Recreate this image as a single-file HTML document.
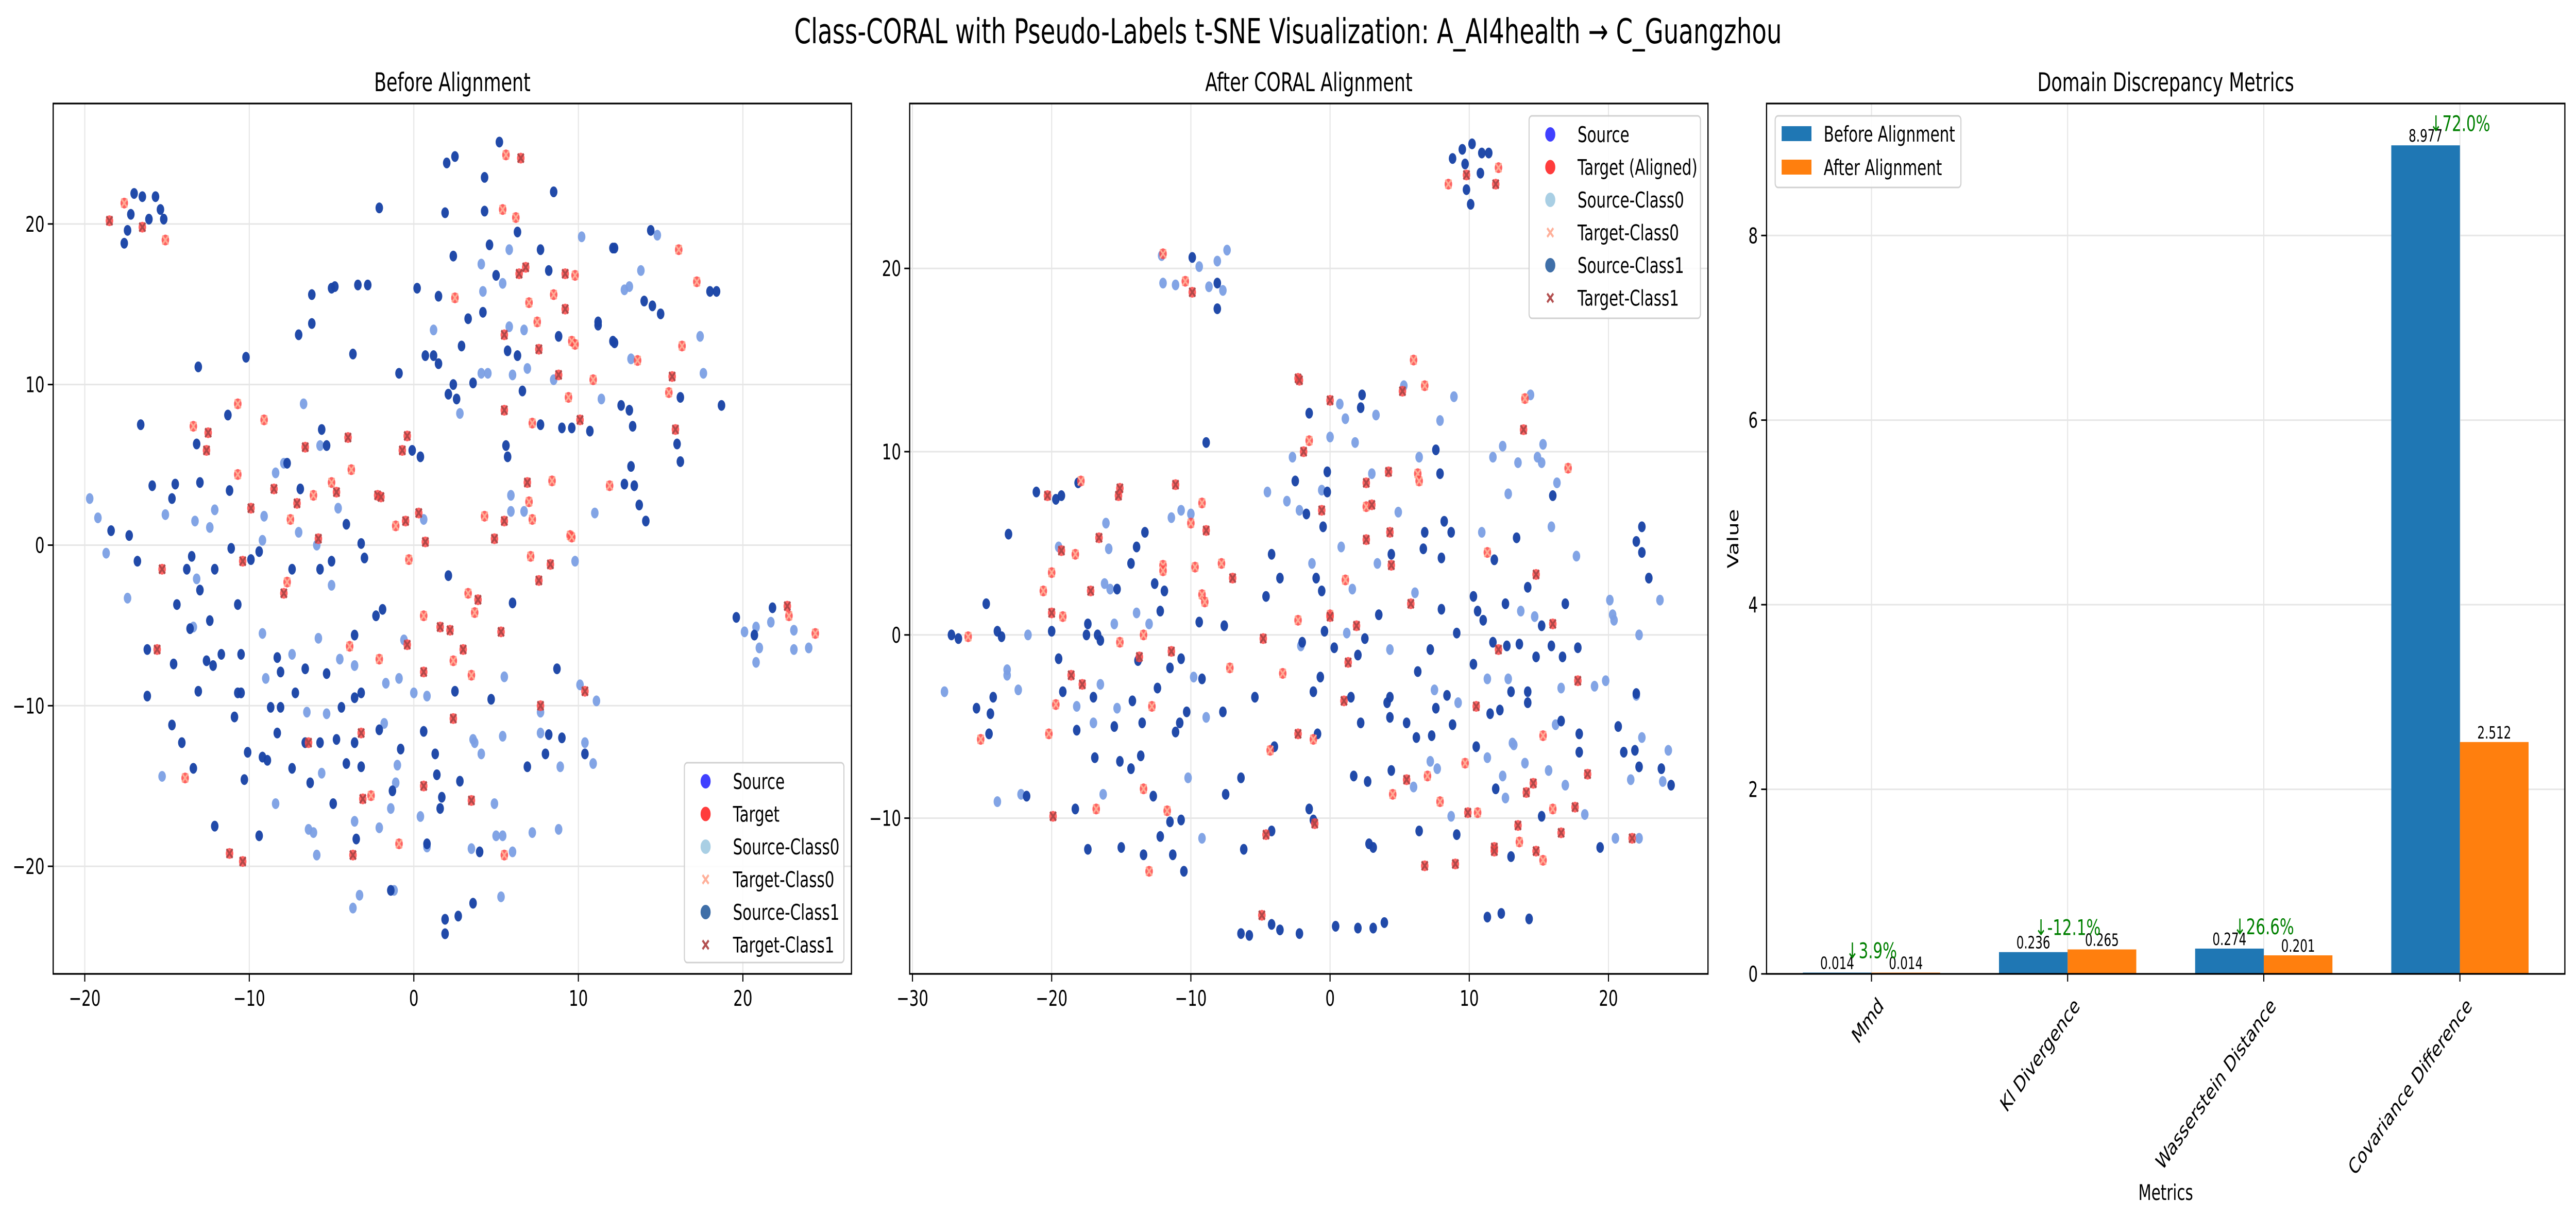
<!DOCTYPE html>
<html><head><meta charset="utf-8"><style>
html,body{margin:0;padding:0;background:#fff;width:100%;height:100%;overflow:hidden;}
svg{display:block;width:100vw;height:100vh;font-family:"DejaVu Sans","Liberation Sans",sans-serif;}
</style></head><body>
<svg id="fig" viewBox="0 0 7170 2365" preserveAspectRatio="none" xmlns="http://www.w3.org/2000/svg">
<rect width="7170" height="2365" fill="#fff"/>
<text x="3585" y="84" font-size="67" text-anchor="middle">Class-CORAL with Pseudo-Labels t-SNE Visualization: A_AI4health → C_Guangzhou</text>
</svg>
<script>
// ---------- Panel 1 data (Before Alignment) ----------
const p1SrcC1=[[5.2,25.1],[2.0,23.8],[2.5,24.2],[4.3,22.9],[8.5,22.0],[-2.1,21.0],[1.9,20.7],[4.3,20.8],[6.3,19.5],[4.6,18.7],[7.7,18.4],[2.4,18.0],[5.0,16.8],[8.2,17.1],[0.2,16.0],[1.5,15.5],[-6.2,15.6],[-6.2,13.8],[-5.0,16.0],[-4.8,16.1],[-3.4,16.2],[-2.8,16.2],[-7.0,13.1],[3.3,14.1],[4.2,14.5],[-3.7,11.9],[-10.2,11.7],[-13.1,11.1],[0.7,11.8],[1.2,11.8],[1.5,11.3],[2.9,12.4],[5.7,12.1],[6.3,11.8],[-0.9,10.7],[2.4,10.0],[2.1,9.4],[2.6,9.1],[3.6,10.1],[6.6,9.6],[8.8,13.0],[11.2,13.9],[11.2,13.7],[12.1,18.5],[12.2,18.5],[12.1,12.7],[12.2,12.6],[14.4,19.6],[14.0,15.2],[14.5,14.9],[15.0,14.4],[18.0,15.8],[18.4,15.8],[18.7,8.7],[16.2,9.2],[12.6,8.7],[13.1,8.4],[13.3,7.4],[7.7,7.5],[9.0,7.3],[9.6,7.3],[10.7,7.1],[16.0,6.3],[16.2,5.2],[5.6,6.2],[5.7,5.5],[13.2,4.9],[12.8,3.8],[13.4,3.7],[13.7,2.5],[14.1,1.5],[-11.3,8.1],[-16.6,7.5],[-5.6,7.2],[-5.3,6.2],[-13.2,6.3],[-7.7,5.1],[-0.1,5.9],[0.4,5.5],[-6.9,3.5],[-15.9,3.7],[-14.5,3.8],[-14.7,2.9],[-13.0,3.9],[-11.2,3.4],[-4.1,1.3],[-18.4,0.9],[-17.3,0.6],[-3.2,0.1],[-16.8,-1.0],[-11.1,-0.2],[-13.5,-0.7],[-13.8,-1.5],[-9.9,-0.9],[-9.4,-0.4],[-5.0,-1.0],[-5.7,-1.5],[-3.0,-0.8],[-7.4,-1.5],[-12.1,-1.5],[-13.0,-2.8],[2.1,-1.9],[6.0,-3.6],[-14.4,-3.7],[-10.7,-3.7],[-1.9,-4.0],[-2.3,-4.4],[-12.4,-4.7],[-13.6,-5.2],[-3.6,-5.6],[-16.2,-6.5],[-11.7,-6.8],[-10.5,-6.8],[-12.6,-7.2],[-12.2,-7.5],[-14.6,-7.4],[-8.3,-7.0],[-6.6,-7.7],[-5.3,-8.0],[-8.1,-7.9],[8.7,-7.7],[-13.1,-9.1],[-16.2,-9.4],[-7.2,-9.2],[-10.7,-9.2],[-10.5,-9.2],[-3.6,-9.5],[-3.2,-9.2],[2.5,-9.1],[4.7,-9.6],[-8.7,-10.1],[-8.1,-10.1],[-4.4,-10.1],[-10.9,-10.7],[-14.7,-11.2],[-2.1,-11.5],[0.6,-11.6],[-8.3,-11.7],[8.2,-11.8],[9.0,-12.0],[-14.1,-12.3],[-4.7,-12.1],[-5.7,-12.3],[-6.6,-12.3],[-3.6,-12.3],[-0.8,-12.7],[-10.1,-12.9],[-9.2,-13.2],[-8.9,-13.4],[1.3,-13.0],[8.0,-13.0],[10.4,-13.0],[-4.1,-13.6],[-13.4,-13.9],[-7.4,-13.9],[-3.2,-13.8],[6.9,-13.8],[1.4,-14.3],[-10.3,-14.6],[2.8,-14.7],[-6.3,-14.8],[-1.3,-15.3],[1.7,-15.7],[-4.9,-16.1],[1.6,-16.4],[-12.1,-17.5],[-9.4,-18.1],[-3.5,-18.3],[0.8,-18.6],[4.0,-19.1],[-1.4,-21.5],[3.6,-22.3],[2.7,-23.1],[1.9,-23.3],[1.9,-24.2],[-17.0,21.9],[-16.5,21.7],[-15.7,21.7],[-17.2,20.6],[-16.1,20.3],[-15.4,20.9],[-15.2,20.3],[-17.4,19.6],[-17.6,18.8],[19.6,-4.5],[20.7,-5.6],[21.8,-3.9]];
const p1SrcC0=[[-19.7,2.9],[-19.2,1.7],[-18.7,-0.5],[-17.4,-3.3],[-15.1,1.9],[-13.3,1.5],[-12.4,1.1],[-12.1,2.2],[-13.2,-2.1],[-13.4,-5.1],[-15.3,-14.4],[-9.1,1.8],[-9.2,0.3],[-8.4,4.5],[-7.9,5.1],[-6.7,8.8],[-5.7,6.2],[-7.0,0.8],[-4.6,2.3],[-5.9,0.0],[-5.0,-2.5],[-9.2,-5.5],[-7.4,-6.8],[-9.0,-8.3],[-5.8,-5.8],[-4.5,-7.1],[-3.6,-7.5],[-6.5,-10.4],[-5.3,-10.5],[-8.4,-16.1],[-5.6,-14.2],[-6.4,-17.7],[-6.1,-17.9],[-5.9,-19.3],[-3.6,-17.2],[-2.1,-17.6],[-3.7,-22.6],[-3.3,-21.8],[-1.2,-21.5],[-1.4,-16.4],[-1.0,-13.7],[-1.1,-14.8],[-1.8,-11.1],[-1.7,-8.6],[-0.9,-8.3],[-0.6,-5.9],[0.0,-9.2],[0.8,-9.4],[0.6,1.6],[0.4,-16.9],[0.8,-18.8],[3.6,-12.1],[3.7,-12.3],[4.1,-13.0],[3.5,-18.9],[4.9,-16.1],[5.0,-18.1],[5.4,-18.1],[6.0,-19.1],[5.3,-21.9],[5.4,-11.9],[5.5,-8.2],[7.2,-17.9],[7.7,-10.4],[7.7,-11.7],[8.9,-13.8],[8.8,-17.7],[10.1,-8.7],[10.4,-12.3],[11.1,-9.7],[10.9,-13.6],[9.8,-1.0],[11.0,2.0],[5.9,3.1],[5.9,2.1],[6.7,2.1],[2.8,8.2],[1.2,13.4],[4.1,17.5],[4.2,15.8],[4.1,10.7],[4.5,10.7],[5.4,16.3],[5.8,18.4],[5.8,13.6],[6.0,10.6],[6.7,13.4],[6.9,11.0],[8.5,10.3],[10.2,19.2],[11.4,9.1],[12.8,15.9],[13.1,16.1],[13.8,17.1],[13.2,11.6],[14.8,19.3],[17.4,13.0],[17.6,10.7],[20.1,-5.4],[20.8,-5.1],[20.8,-7.3],[21.0,-6.4],[21.7,-4.8],[23.1,-5.3],[23.1,-6.5],[24.0,-6.4]];
const p1TgtC0=[[-17.6,21.3],[-15.1,19.0],[5.6,24.3],[5.4,20.9],[6.2,20.4],[2.5,15.4],[7.0,15.1],[7.5,13.9],[8.5,15.6],[9.8,16.8],[9.6,12.7],[9.8,12.5],[9.4,9.2],[10.9,10.3],[16.1,18.4],[17.2,16.4],[16.3,12.4],[15.5,9.5],[13.6,11.5],[11.9,3.7],[8.4,4.0],[7.2,7.6],[7.0,2.7],[7.2,1.6],[9.5,0.6],[9.6,0.5],[7.1,-0.7],[4.3,1.8],[-13.4,7.4],[-10.7,8.8],[-9.1,7.8],[-10.7,4.4],[-6.1,3.1],[-5.0,3.9],[-3.8,4.7],[-7.5,1.6],[-1.1,1.2],[-0.3,-0.9],[-7.7,-2.3],[0.6,-4.4],[3.3,-3.0],[3.7,-4.2],[2.4,-7.2],[3.5,-8.1],[-2.1,-7.1],[-3.9,-6.3],[-13.9,-14.5],[-2.6,-15.6],[-0.9,-18.6],[5.5,-19.3],[24.4,-5.5],[22.8,-4.4]];
const p1TgtC1=[[-18.5,20.2],[-16.5,19.8],[6.5,24.1],[5.5,13.1],[6.4,16.9],[6.8,17.3],[7.6,12.2],[9.2,16.9],[9.2,14.7],[8.8,10.6],[5.5,8.4],[10.1,7.8],[15.9,7.2],[15.7,10.5],[6.9,3.9],[5.5,1.5],[4.9,0.4],[8.3,-1.2],[7.6,-2.2],[0.7,0.2],[0.3,2.0],[-0.5,1.5],[-0.7,5.9],[-0.4,6.8],[-2.2,3.1],[-2.0,3.0],[-4.0,6.7],[-4.7,3.3],[-6.6,6.1],[-5.8,0.4],[-8.5,3.5],[-7.1,2.6],[-9.9,2.3],[-10.4,-1.0],[-12.5,7.0],[-12.6,5.9],[-15.3,-1.5],[-15.6,-6.5],[-7.9,-3.0],[-0.4,-6.2],[0.6,-7.9],[1.6,-5.1],[2.2,-5.3],[3.0,-6.5],[3.9,-3.4],[5.3,-5.4],[7.7,-10.0],[10.4,-9.1],[2.4,-10.8],[-3.2,-11.7],[-6.4,-12.3],[-3.1,-15.8],[0.6,-15.0],[3.5,-15.9],[-3.7,-19.3],[-11.2,-19.2],[-10.4,-19.7],[22.7,-3.8]];
const p1XTicks=[-20,-10,0,10,20];
const p1YTicks=[-20,-10,0,10,20];

// ---------- Panel 2 data (After CORAL Alignment) ----------
const p2SrcC1=[[10.2,26.8],[9.5,26.5],[8.8,26.0],[9.7,25.7],[10.9,26.3],[11.4,26.3],[10.8,25.2],[9.8,24.3],[10.1,23.5],[-9.9,20.6],[-8.1,19.2],[-8.1,17.8],[-8.9,10.5],[2.3,13.1],[2.2,12.4],[-1.5,12.1],[-2.5,8.4],[-0.2,8.9],[-0.2,7.8],[-1.7,6.6],[-0.5,5.9],[-21.1,7.8],[-19.7,7.4],[-19.3,7.6],[-18.1,8.3],[-23.1,5.5],[-24.7,1.7],[-23.9,0.2],[-23.6,-0.1],[-27.2,0.0],[-26.7,-0.2],[-25.4,-4.0],[-24.4,-4.3],[-24.2,-3.4],[-24.5,-5.4],[-20.0,0.2],[-19.5,-1.3],[-19.2,-3.1],[-17.4,0.6],[-17.5,0.0],[-16.7,0.0],[-16.5,-0.3],[-17.0,-3.4],[-16.9,-6.7],[-18.2,-5.2],[-18.3,-9.5],[-17.4,-11.7],[-21.8,-8.8],[-15.5,-5.0],[-15.3,2.5],[-15.1,-6.9],[-15.0,-11.6],[-14.3,3.9],[-13.9,4.8],[-13.3,5.6],[-13.8,-1.4],[-14.2,-3.6],[-14.3,-7.3],[-13.6,-6.6],[-13.5,-4.8],[-13.4,-12.0],[-12.7,-8.8],[-12.6,2.8],[-11.9,2.4],[-12.2,1.3],[-12.4,-2.9],[-12.2,-11.0],[-11.5,-10.2],[-11.3,-12.0],[-11.1,-5.3],[-10.8,-4.8],[-11.5,-1.8],[-10.7,-1.3],[-10.3,-4.2],[-10.7,-10.1],[-10.5,-12.9],[-9.4,0.7],[-9.2,-2.4],[-7.6,0.5],[-7.7,-4.2],[-7.5,-8.7],[-6.4,-7.8],[-6.2,-11.7],[-6.4,-16.3],[-5.8,-16.4],[-5.4,-3.4],[-4.6,2.1],[-4.2,4.4],[-3.6,3.1],[-4.0,-6.1],[-4.2,-10.7],[-4.2,-15.8],[-3.6,-16.1],[-2.2,-16.3],[-2.0,-0.4],[-1.2,-3.1],[-0.7,-2.3],[-0.9,-5.4],[-1.5,-9.5],[-1.2,-10.1],[-0.4,0.2],[-1.0,3.1],[-0.6,2.4],[0.3,-0.7],[0.4,-15.9],[1.5,-3.4],[2.0,-1.1],[2.2,-4.8],[1.7,-7.7],[2.7,-8.0],[2.0,-16.0],[2.5,-0.2],[2.8,-11.4],[3.1,-11.6],[3.1,-16.0],[3.9,-15.7],[3.5,1.1],[4.1,-3.7],[4.3,-3.4],[4.3,-4.5],[4.4,4.4],[4.4,-7.4],[5.5,-4.8],[6.2,-5.6],[6.3,-2.0],[6.4,-10.7],[6.7,4.7],[6.8,5.6],[7.2,-0.8],[7.3,-5.5],[7.6,-4.0],[7.6,10.1],[7.9,8.8],[8.0,4.2],[8.0,1.4],[8.2,6.2],[8.7,5.6],[8.4,-3.3],[8.8,-4.9],[9.1,0.1],[9.1,-10.9],[10.3,2.1],[10.6,1.3],[11.0,0.8],[10.3,-1.6],[10.5,-6.1],[11.3,-15.4],[11.5,-4.3],[11.7,-0.4],[11.8,4.1],[11.9,-8.4],[12.2,-4.1],[12.3,-15.2],[12.6,1.7],[12.7,-0.6],[13.0,-3.1],[13.0,-12.1],[13.4,5.3],[13.6,-0.5],[14.2,-3.1],[14.2,-3.7],[14.2,2.6],[14.3,-15.5],[14.8,-1.2],[15.2,-9.9],[15.2,0.5],[15.9,-0.6],[16.0,7.6],[16.7,-1.2],[16.6,-4.7],[16.9,1.7],[17.8,-0.7],[17.9,-5.4],[17.9,-6.4],[19.4,-11.6],[20.7,-5.0],[21.1,-6.4],[21.9,-6.3],[22.0,-3.2],[22.0,5.1],[22.4,5.9],[22.4,4.5],[22.2,-7.2],[22.9,3.1],[23.8,-7.3],[24.5,-8.2]];
const p2SrcC0=[[-12.1,20.7],[-12.0,19.2],[-11.1,19.1],[-9.4,20.1],[-8.1,20.4],[-7.4,21.0],[-8.7,19.0],[-7.7,18.8],[-27.7,-3.1],[-23.2,-1.9],[-23.2,-2.2],[-22.4,-3.0],[-21.7,0.0],[-23.9,-9.1],[-22.2,-8.7],[-19.5,4.8],[-18.2,-3.9],[-17.0,-4.8],[-16.5,-2.7],[-16.3,-8.7],[-16.1,6.1],[-15.9,4.7],[-16.2,2.8],[-15.8,2.5],[-15.5,0.6],[-15.3,-4.0],[-13.9,1.2],[-13.0,0.6],[-11.4,6.4],[-10.7,6.8],[-10.0,6.6],[-10.2,-7.8],[-9.8,-2.3],[-9.2,-11.1],[-8.9,-4.5],[-4.5,7.8],[-3.1,7.3],[-2.7,9.7],[-2.2,6.8],[-2.1,-0.6],[-1.3,3.9],[-0.6,7.9],[0.0,10.8],[0.7,12.6],[1.1,11.8],[0.8,4.8],[1.2,0.1],[1.6,2.5],[1.8,10.5],[3.0,8.8],[3.3,12.0],[3.4,3.9],[4.3,-0.8],[4.9,6.7],[5.3,13.6],[6.1,2.3],[6.0,-8.3],[6.4,9.7],[7.2,-6.9],[7.5,-3.0],[7.7,-7.3],[7.9,11.7],[8.7,-9.9],[8.9,13.0],[9.2,-3.7],[10.9,5.6],[11.3,-2.4],[11.3,-6.7],[11.7,9.7],[12.4,10.3],[12.4,-7.7],[12.6,-8.9],[12.8,7.7],[12.8,-2.4],[13.1,-5.9],[13.2,-6.0],[13.5,9.4],[13.7,1.3],[14.0,-7.0],[14.4,13.1],[14.7,1.0],[14.9,9.7],[15.2,9.4],[15.3,10.4],[15.7,-7.4],[15.9,5.9],[16.2,-4.9],[16.3,8.3],[16.6,-2.9],[16.9,-8.2],[17.7,4.3],[18.3,-9.8],[19.0,-2.8],[19.8,-2.5],[20.1,1.9],[20.3,1.1],[20.4,0.8],[20.5,-11.1],[21.6,-7.9],[22.0,-3.3],[22.2,0.0],[22.2,-11.1],[22.4,-5.6],[23.7,1.9],[23.9,-8.0],[24.3,-6.3]];
const p2TgtC0=[[8.5,24.6],[12.1,25.5],[-12.0,20.8],[-10.4,19.3],[6.0,15.0],[6.8,13.6],[14.0,12.9],[17.1,9.1],[-1.5,10.6],[6.3,8.8],[6.4,8.4],[-17.9,8.4],[-9.2,7.2],[-10.0,6.1],[-9.7,3.7],[-12.0,3.8],[-12.0,3.5],[-7.8,3.9],[-9.2,2.2],[-9.0,1.8],[-18.3,4.4],[-20.6,2.4],[-20.0,3.4],[-19.2,1.0],[-26.0,-0.1],[-19.7,-3.8],[-25.1,-5.7],[-20.2,-5.4],[-15.1,-0.4],[-13.4,0.0],[-12.8,-3.9],[-13.4,-8.4],[-13.0,-12.9],[-11.7,-9.6],[-16.8,-9.5],[-7.2,-1.8],[-3.4,-2.1],[-4.3,-6.3],[-2.3,0.8],[-1.2,-5.7],[1.1,3.0],[2.6,7.0],[0.0,1.1],[4.5,-8.7],[7.0,-7.7],[7.9,-9.1],[9.7,-7.0],[10.6,-9.7],[11.3,4.5],[13.6,-11.3],[15.3,-5.5],[15.3,-12.3],[16.0,-9.5]];
const p2TgtC1=[[9.8,25.1],[11.9,24.6],[-9.9,18.7],[-2.3,14.0],[-2.2,13.9],[0.0,12.8],[5.2,13.3],[13.9,11.2],[-1.9,10.0],[2.6,8.3],[4.2,8.9],[-0.6,6.8],[3.0,7.1],[-20.3,7.6],[-15.2,7.6],[-15.1,8.0],[-11.1,8.2],[-8.9,5.7],[-16.6,5.3],[-19.3,4.6],[-7.0,3.1],[-17.2,2.4],[-20.0,1.2],[-18.6,-2.2],[-17.8,-2.7],[-13.7,-1.2],[-11.4,-0.9],[-19.9,-9.9],[-4.8,-0.2],[-2.3,-5.4],[-4.6,-10.9],[-4.9,-15.3],[-1.1,-10.3],[0.0,1.0],[1.3,-1.5],[1.9,0.5],[1.0,-3.6],[2.6,5.2],[4.3,5.6],[4.4,3.8],[5.5,-7.9],[5.8,1.7],[6.8,-12.6],[9.0,-12.5],[9.9,-9.7],[10.5,-3.9],[11.8,-11.6],[11.8,-11.8],[12.1,-0.8],[13.5,-10.4],[14.1,-8.6],[14.6,-8.1],[14.8,3.3],[14.8,-11.8],[16.0,0.6],[16.6,-10.8],[17.6,-9.4],[17.8,-2.5],[18.5,-7.6],[21.7,-11.1]];
const p2XTicks=[-30,-20,-10,0,10,20];
const p2YTicks=[-10,0,10,20];

// ---------- Panel 3 data (Domain Discrepancy Metrics) ----------
const metrics=["Mmd","Kl Divergence","Wasserstein Distance","Covariance Difference"];
const beforeVals=[0.014,0.236,0.274,8.977];
const afterVals=[0.014,0.265,0.201,2.512];
const changeLabels=["↓3.9%","↓-12.1%","↓26.6%","↓72.0%"];
const p3YTicks=[0,2,4,6,8];

const NS="http://www.w3.org/2000/svg";
const svg=document.getElementById('fig');
function mk(tag,attrs,parent){const e=document.createElementNS(NS,tag);for(const k in attrs)e.setAttribute(k,attrs[k]);(parent||svg).appendChild(e);return e;}
function axis(L,R,T,B,x0,x1,y0,y1){return {L:L,R:R,T:T,B:B,sx:v=>L+(v-x0)/(x1-x0)*(R-L),sy:v=>B-(v-y0)/(y1-y0)*(B-T)};}

const A1=axis(148,2370,201,1891,-21.92,26.6,-26.7,27.5);
const A2=axis(2532,4754,201,1891,-30.2,27.15,-18.5,29.0);
const A3=axis(4917,7139,201,1891,-0.535,3.535,0,9.43);

function frame(A,xt,yt,title,xfmt,pname){
  const g=mk('g',{});
  
  
  xt.forEach(v=>{const x=xfmt?xfmt(v):A.sx(v);
    const gl=mk('line',{x1:x,x2:x,y1:A.T,y2:A.B,stroke:'#e6e6e6','stroke-width':3},g);
    
    
    const tk=mk('line',{x1:x,x2:x,y1:A.B,y2:A.B+15,stroke:'#000','stroke-width':3},g);
    
    
  });
  yt.forEach(v=>{const y=A.sy(v);
    const gl=mk('line',{x1:A.L,x2:A.R,y1:y,y2:y,stroke:'#e6e6e6','stroke-width':3},g);
    
    
    const tk=mk('line',{x1:A.L-15,x2:A.L,y1:y,y2:y,stroke:'#000','stroke-width':3},g);
    
    
    const t=mk('text',{x:A.L-24,y:y+15,'font-size':42,'text-anchor':'end'},g);
    t.textContent=v<0?'\u2212'+Math.abs(v):String(v);
    
    
  });
  const tt=mk('text',{x:(A.L+A.R)/2,y:177,'font-size':50,'text-anchor':'middle'});
  tt.textContent=title;
  
  
  return g;
}
function xLabels(A,xt){
  xt.forEach(v=>{const t=mk('text',{x:A.sx(v),y:A.B+62,'font-size':42,'text-anchor':'middle'});
    t.textContent=v<0?'\u2212'+Math.abs(v):String(v);
    
    
  });
}
function spine(A,name){
  const r=mk('rect',{x:A.L,y:A.T,width:A.R-A.L,height:A.B-A.T,fill:'none',stroke:'#000','stroke-width':3.3});
  
  
}
const DARK='#1a44a6',LIGHT='#7b9fe4',RED='#ff4646',XL='#ffab94',XD='#b04848';
function dot(g,x,y,fill,op){const c=mk('circle',{cx:x,cy:y,r:10.5,fill:fill,'fill-opacity':op},g);return c;}
function cross(g,x,y,col,w){const s=8.5;const p=mk('path',{d:`M${x-s} ${y-s}L${x+s} ${y+s}M${x-s} ${y+s}L${x+s} ${y-s}`,stroke:col,'stroke-width':w,fill:'none'},g);return p;}
function scatter(A,srcC1,srcC0,tC0,tC1,pname){
  const g=mk('g',{});
  
  
  srcC0.forEach(p=>{const c=dot(g,A.sx(p[0]),A.sy(p[1]),LIGHT,0.95);
    
    });
  srcC1.forEach(p=>{const c=dot(g,A.sx(p[0]),A.sy(p[1]),DARK,0.97);
    
    });
  tC0.forEach(p=>{const c=dot(g,A.sx(p[0]),A.sy(p[1]),RED,0.85);
    
    
    const x=cross(g,A.sx(p[0]),A.sy(p[1]),XL,4);
    
    });
  tC1.forEach(p=>{const c=dot(g,A.sx(p[0]),A.sy(p[1]),RED,0.85);
    
    
    const x=cross(g,A.sx(p[0]),A.sy(p[1]),XD,4.5);
    
    });
}
function scatterLegend(bx,by,bw,bh,labels,pname){
  const g=mk('g',{});
  
  
  mk('rect',{x:bx,y:by,width:bw,height:bh,rx:8,fill:'#fff','fill-opacity':0.85,stroke:'#d0d0d0','stroke-width':3},g);
  const mx=bx+59,tx=bx+135;
  const kinds=[['c','#4040ff'],['c','#ff3c3c'],['c','#a9cfe4'],['x','#ffb09a'],['c','#3f6fa8'],['x','#b35050']];
  labels.forEach((lab,i)=>{const y=by+36+i*63.5;
    const k=kinds[i];
    if(k[0]==='c'){mk('circle',{cx:mx,cy:y,r:13,fill:k[1],stroke:k[1],'stroke-width':2},g);}
    else{cross(g,mx,y,k[1],5);}
    const t=mk('text',{x:tx,y:y+15,'font-size':42},g);
    t.textContent=lab;
    
    
  });
}

// Panel 1
frame(A1,p1XTicks,p1YTicks,'Before Alignment',null,'before-alignment');
scatter(A1,p1SrcC1,p1SrcC0,p1TgtC0,p1TgtC1,'before-alignment');
spine(A1,'before-alignment-frame');
xLabels(A1,p1XTicks);
scatterLegend(1905,1481,444,388,['Source','Target','Source-Class0','Target-Class0','Source-Class1','Target-Class1'],'before-alignment');

// Panel 2
frame(A2,p2XTicks,p2YTicks,'After CORAL Alignment',null,'after-alignment');
scatter(A2,p2SrcC1,p2SrcC0,p2TgtC0,p2TgtC1,'after-alignment');
spine(A2,'after-alignment-frame');
xLabels(A2,p2XTicks);
scatterLegend(4256,225,477,393,['Source','Target (Aligned)','Source-Class0','Target-Class0','Source-Class1','Target-Class1'],'after-alignment');

// Panel 3
const catIdx=metrics.map((m,i)=>i);
frame(A3,catIdx,p3YTicks,'Domain Discrepancy Metrics',null,'metrics');
const bw=0.35;
const bars=mk('g',{});


metrics.forEach((m,i)=>{
  const b0=A3.sx(i-bw),b1=A3.sx(i),b2=A3.sx(i+bw);
  const yb=A3.sy(beforeVals[i]),ya=A3.sy(afterVals[i]),y0=A3.sy(0);
  const rb=mk('rect',{x:b0,y:yb,width:b1-b0,height:y0-yb,fill:'#1f77b4'},bars);
  
  
  const ra=mk('rect',{x:b1,y:ya,width:b2-b1,height:y0-ya,fill:'#ff7f0e'},bars);
  
  
  const tb=mk('text',{x:(b0+b1)/2,y:yb-7,'font-size':33,'text-anchor':'middle'});
  tb.textContent=beforeVals[i].toFixed(3);
  
  
  const ta=mk('text',{x:(b1+b2)/2,y:ya-7,'font-size':33,'text-anchor':'middle'});
  ta.textContent=afterVals[i].toFixed(3);
  
  
  const mx=Math.max(beforeVals[i],afterVals[i]);
  const tc=mk('text',{x:A3.sx(i),y:A3.sy(mx+0.1)-10,'font-size':42,'text-anchor':'middle',fill:'#008000'});
  tc.textContent=changeLabels[i];
  
  
  const tx=A3.sx(i)+14,ty=A3.B+42;
  const xl=mk('text',{x:tx,y:ty,'font-size':42,'text-anchor':'end','dominant-baseline':'hanging',transform:`rotate(-45 ${tx} ${ty})`});
  xl.textContent=m;
  
  
});
spine(A3,'metrics-frame');
const yl=mk('text',{x:4838,y:1046,'font-size':42,'text-anchor':'middle',transform:'rotate(-90 4838 1046)'});
yl.textContent='Value';


const xlab=mk('text',{x:6028,y:2330,'font-size':42,'text-anchor':'middle'});
xlab.textContent='Metrics';


// bar legend
const lg=mk('g',{});


mk('rect',{x:4941,y:225,width:517,height:139,rx:8,fill:'#fff','fill-opacity':0.85,stroke:'#d0d0d0','stroke-width':3},lg);
[['Before Alignment','#1f77b4',260],['After Alignment','#ff7f0e',325]].forEach(r=>{
  mk('rect',{x:4959,y:r[2]-15,width:83,height:29,fill:r[1]},lg);
  const t=mk('text',{x:5076,y:r[2]+15,'font-size':42},lg);
  t.textContent=r[0];
  
  
});
</script>
</body></html>
